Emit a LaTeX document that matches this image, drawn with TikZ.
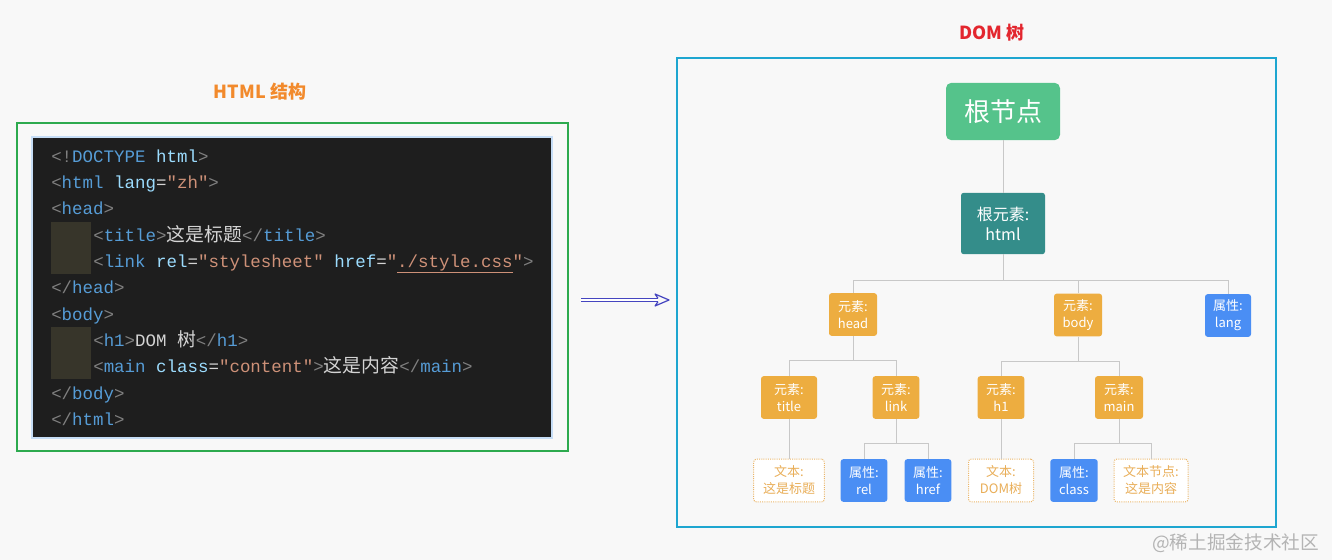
\documentclass[tikz,border=0pt]{standalone}
\usepackage{fontspec}
\usepackage{xcolor}
\usetikzlibrary{arrows.meta}
\setmainfont{Noto Sans CJK SC}
\newfontfamily\codefont{Liberation Mono}
\newfontfamily\codecjk{Noto Sans CJK SC}[Scale=1.08]

\definecolor{pagebg}{HTML}{F8F8F8}
\definecolor{codebg}{HTML}{1E1E1E}
\definecolor{codeglow}{HTML}{C6DDF6}
\definecolor{indentbg}{HTML}{37352A}
\definecolor{cpunct}{HTML}{808080}
\definecolor{ctag}{HTML}{569CD6}
\definecolor{cattr}{HTML}{9CDCFE}
\definecolor{cstr}{HTML}{CE9178}
\definecolor{ctext}{HTML}{D4D4D4}
\definecolor{htmlgreen}{HTML}{2DAA4F}
\definecolor{domcyan}{HTML}{1EA6D0}
\definecolor{titleorange}{HTML}{F28A2C}
\definecolor{titlered}{HTML}{E3262E}
\definecolor{arrowblue}{HTML}{4545C0}
\definecolor{rootgreen}{HTML}{55C38B}
\definecolor{htmlteal}{HTML}{348D8A}
\definecolor{elorange}{HTML}{EDAD40}
\definecolor{attrblue}{HTML}{4A8EF4}
\definecolor{txtorange}{HTML}{E9AE58}
\definecolor{wiregray}{HTML}{C8C8C8}
\definecolor{markgray}{HTML}{B4B4B4}

\newcommand{\kpn}[1]{\textcolor{cpunct}{#1}}
\newcommand{\ktg}[1]{\textcolor{ctag}{#1}}
\newcommand{\kat}[1]{\textcolor{cattr}{#1}}
\newcommand{\kst}[1]{\textcolor{cstr}{#1}}
\newcommand{\ktx}[1]{\textcolor{ctext}{#1}}

\tikzset{
  codeline/.style={anchor=base west, inner sep=0pt,
    font=\codefont\fontsize{13.1pt}{15pt}\selectfont},
  wire/.style={draw=wiregray, line width=0.75pt},
  treenode/.style={rounded corners=2pt, text=white, align=center, inner sep=0pt,
    minimum height=32pt, font=\fontsize{9.75pt}{12.75pt}\selectfont},
  elnode/.style={treenode, fill=elorange},
  attrnode/.style={treenode, fill=attrblue},
  txtnode/.style={treenode, fill=white, draw=txtorange!90, line width=0.75pt,
    dash pattern=on 0.75pt off 0.9pt, text=txtorange},
}

\begin{document}
\begin{tikzpicture}[x=0.75pt,y=-0.75pt]
    \fill[pagebg] (0,0) rectangle (1332,560);
    \useasboundingbox (0,0) rectangle (1332,560);

    %HTML side
    \node[text=titleorange, font=\bfseries\fontsize{13.5pt}{16pt}\selectfont] (htmltitle) at (260,92) {HTML 结构};
    \draw[htmlgreen, line width=1.5pt] (17,123) rectangle (568,451);
    \draw[codeglow, line width=2pt, fill=codebg] (32,137) rectangle (552,438);
    \fill[indentbg] (51,222) rectangle (91,274);
    \fill[indentbg] (51,327) rectangle (91,379);

    \node[codeline] (c1) at (51,162) {\kpn{<!}\ktg{DOCTYPE} \kat{html}\kpn{>}};
    \node[codeline] (c2) at (51,188) {\kpn{<}\ktg{html} \kat{lang}\ktx{=}\kst{"zh"}\kpn{>}};
    \node[codeline] (c3) at (51,214.5) {\kpn{<}\ktg{head}\kpn{>}};
    \node[codeline] (c4) at (93,241) {\kpn{<}\ktg{title}\kpn{>}\ktx{\codecjk 这是标题}\kpn{</}\ktg{title}\kpn{>}};
    \node[codeline] (c5) at (93,267) {\kpn{<}\ktg{link} \kat{rel}\ktx{=}\kst{"stylesheet"} \kat{href}\ktx{=}\kst{"\underline{./style.css}"}\kpn{>}};
    \node[codeline] (c6) at (51,293.5) {\kpn{</}\ktg{head}\kpn{>}};
    \node[codeline] (c7) at (51,320) {\kpn{<}\ktg{body}\kpn{>}};
    \node[codeline] (c8) at (93,346.5) {\kpn{<}\ktg{h1}\kpn{>}\ktx{DOM {\codecjk 树}}\kpn{</}\ktg{h1}\kpn{>}};
    \node[codeline] (c9) at (93,372.5) {\kpn{<}\ktg{main} \kat{class}\ktx{=}\kst{"content"}\kpn{>}\ktx{\codecjk 这是内容}\kpn{</}\ktg{main}\kpn{>}};
    \node[codeline] (c10) at (51,399) {\kpn{</}\ktg{body}\kpn{>}};
    \node[codeline] (c11) at (51,425) {\kpn{</}\ktg{html}\kpn{>}};

    %arrow
    \coordinate (arrS) at (581,300);
    \coordinate (arrH) at (658,300);
    \coordinate (arrE) at (669,300);
    \draw[arrowblue, double, double distance=1.6pt, line width=0.6pt] (arrS) -- (arrH);
    \draw[arrowblue, line width=0.9pt, line join=round]
      (arrE) ++(-11,-1.7) -- ++(-3,-4.3) -- (arrE) -- ++(-14,6) -- ++(3,-4.3);

    %DOM side
    \node[text=titlered, font=\bfseries\fontsize{13.5pt}{16pt}\selectfont] (domtitle) at (992,33) {DOM 树};
    \draw[domcyan, line width=1.5pt] (677,58) rectangle (1276,527);

    \node[fill=rootgreen, rounded corners=4pt, text=white, minimum width=85.5pt, minimum height=43pt,
      font=\fontsize{19.5pt}{22pt}\selectfont] (root) at (1003,111.5) {根节点};
    \node[fill=htmlteal, rounded corners=2pt, text=white, align=center, minimum width=63pt, minimum height=46pt,
      inner sep=0pt, font=\fontsize{12pt}{15pt}\selectfont] (html) at (1003,223.5) {根元素:\\html};

    \node[elnode, minimum width=36pt] (head) at (853,314.5) {元素:\\head};
    \node[elnode, minimum width=36pt] (body) at (1078,315) {元素:\\body};
    \node[attrnode, minimum width=34.5pt] (lang) at (1228,315.5) {属性:\\lang};

    \node[elnode, minimum width=42pt] (title) at (789,397.5) {元素:\\title};
    \node[elnode, minimum width=35pt] (link) at (896,397.5) {元素:\\link};
    \node[elnode, minimum width=35pt] (h1) at (1001,397.5) {元素:\\h1};
    \node[elnode, minimum width=36pt] (main) at (1119,397.5) {元素:\\main};

    \node[txtnode, minimum width=53pt] (ttitle) at (789,480.5) {文本:\\这是标题};
    \node[attrnode, minimum width=35pt] (rel) at (864,480.5) {属性:\\rel};
    \node[attrnode, minimum width=35pt] (href) at (928,480.5) {属性:\\href};
    \node[txtnode, minimum width=48.75pt] (th1) at (1001,480.5) {文本:\\DOM树};
    \node[attrnode, minimum width=35.5pt] (class) at (1074,480.5) {属性:\\class};
    \node[txtnode, minimum width=55.5pt] (tmain) at (1151,480.5) {文本节点:\\这是内容};

    %connectors
    \draw[wire] (root) -- (html);
    \draw[wire] (html.south) -- ++(0,26) -| (head.north);
    \draw[wire] (html.south) -- ++(0,26) -| (body.north);
    \draw[wire] (html.south) -- ++(0,26) -| (lang.north);
    \draw[wire] (head.south) -- ++(0,24.5) -| (title.north);
    \draw[wire] (head.south) -- ++(0,24.5) -| (link.north);
    \draw[wire] (body.south) -- ++(0,24.5) -| (h1.north);
    \draw[wire] (body.south) -- ++(0,24.5) -| (main.north);
    \draw[wire] (title) -- (ttitle);
    \draw[wire] (h1) -- (th1);
    \draw[wire] (link.south) -- ++(0,24) -| (rel.north);
    \draw[wire] (link.south) -- ++(0,24) -| (href.north);
    \draw[wire] (main.south) -- ++(0,24) -| (class.north);
    \draw[wire] (main.south) -- ++(0,24) -| (tmain.north);

    \node[text=markgray, font=\fontsize{14pt}{16pt}\selectfont, anchor=east] (mark) at (1324,543) {@稀土掘金技术社区};
\end{tikzpicture}
\end{document}
